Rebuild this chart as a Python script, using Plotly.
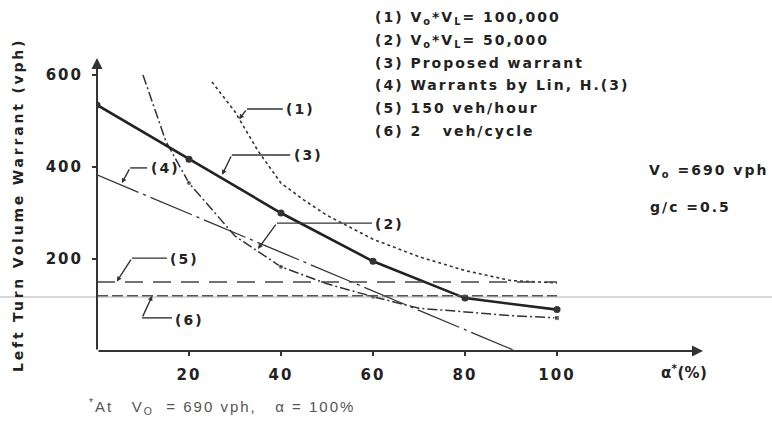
import plotly.graph_objects as go

# ---------------- data ----------------
alpha_1 = [25, 30, 35, 40, 45, 50, 60, 70, 80, 90, 100]
warrant_1 = [585, 520, 435, 365, 328, 295, 243, 205, 175, 153, 148]

alpha_2 = [10, 15, 20, 30, 40, 50, 60, 70, 80, 90, 100]
warrant_2 = [600, 455, 365, 250, 183, 146, 118, 93, 85, 77, 72]
marked_2 = [0, 0, 1, 0, 1, 0, 1, 0, 0, 0, 2]

alpha_3 = [0, 20, 40, 60, 80, 100]
warrant_3 = [535, 417, 300, 195, 115, 90]

alpha_4 = [0, 91]
warrant_4 = [383, 0]

alpha_56 = [0, 100]
warrant_5 = [150, 150]
warrant_6 = [120, 120]

x_ticks = [20, 40, 60, 80, 100]
y_ticks = [200, 400, 600]

legend_lines = [
    "(1) V<sub>o</sub>*V<sub>L</sub>= 100,000",
    "(2) V<sub>o</sub>*V<sub>L</sub>= 50,000",
    "(3) Proposed warrant",
    "(4) Warrants by Lin, H.(3)",
    "(5) 150 veh/hour",
    "(6) 2\u00a0\u00a0 veh/cycle",
]

# ---------------- geometry ----------------
W, H = 772, 422
X0_PX, X1_PX = 97, 703
Y0_PX, Y1_PX = 351, 58
X_MAX = (X1_PX - X0_PX) / 4.6
Y_MAX = (Y0_PX - Y1_PX) / 0.46


def px(xp):
    return (xp - X0_PX) / (X1_PX - X0_PX)


def py(yp):
    return (Y0_PX - yp) / (Y0_PX - Y1_PX)


INK = "#222222"
FONT = "DejaVu Sans"

fig = go.Figure()

# (1)
fig.add_trace(go.Scatter(x=alpha_1, y=warrant_1, mode="lines",
                         line=dict(color="#333333", width=1.6, dash="3px,3px")))
# (2)
fig.add_trace(go.Scatter(
    x=alpha_2, y=warrant_2, mode="lines+markers",
    line=dict(color="#333333", width=1.5, dash="10px,3px,2px,3px"),
    marker=dict(size=[0 if m == 0 else 5 for m in marked_2],
                symbol=["square" if m == 2 else "circle" for m in marked_2],
                color="#333333")))
# (3)
fig.add_trace(go.Scatter(x=alpha_3, y=warrant_3, mode="lines+markers",
                         line=dict(color=INK, width=2.6),
                         marker=dict(size=7, color="#333333")))
# (4)
fig.add_trace(go.Scatter(x=alpha_4, y=warrant_4, mode="lines",
                         line=dict(color="#333333", width=1.3, dash="45px,5px,3px,5px")))
# (5)
fig.add_trace(go.Scatter(x=alpha_56, y=warrant_5, mode="lines",
                         line=dict(color="#444444", width=1.6, dash="18px,10px")))
# (6)
fig.add_trace(go.Scatter(x=alpha_56, y=warrant_6, mode="lines",
                         line=dict(color="#555555", width=1.6, dash="11px,4px")))

shapes = [
    # faint scan line across the page
    dict(type="line", xref="paper", yref="paper", x0=px(0), x1=px(W),
         y0=py(297), y1=py(297), line=dict(color="#d8d8d8", width=2), layer="below"),
]

annotations = []

# axes with arrows
annotations.append(dict(x=X_MAX, y=0, ax=0, ay=0, xref="x", yref="y", axref="x", ayref="y",
                        text="", showarrow=True, arrowhead=2, arrowsize=1.1,
                        arrowwidth=2, arrowcolor="#333333"))
annotations.append(dict(x=0, y=Y_MAX, ax=0, ay=0, xref="x", yref="y", axref="x", ayref="y",
                        text="", showarrow=True, arrowhead=2, arrowsize=1.1,
                        arrowwidth=2, arrowcolor="#333333"))

# leaders: (label, point, elbow, end, label y)
leaders = [
    ("(1)", (30.9, 504), (32.6, 526), (40.4, 526), 526),
    ("(3)", (27.2, 383), (29.3, 426), (42.0, 426), 426),
    ("(4)", (5.4, 365), (7.2, 398), (10.9, 398), 398),
    ("(5)", (4.3, 151), (7.6, 202), (15.2, 202), 200),
    ("(6)", (12.0, 120), (9.8, 72), (16.3, 72), 67),
    ("(2)", (35.0, 222), (39.1, 278), (59.8, 278), 276),
]
for lab, pt, elb, end, ly in leaders:
    annotations.append(dict(x=pt[0], y=pt[1], ax=elb[0], ay=elb[1], xref="x", yref="y",
                            axref="x", ayref="y", text="", showarrow=True, arrowhead=2,
                            arrowsize=0.7, arrowwidth=1.4, arrowcolor="#333333"))
    shapes.append(dict(type="line", xref="x", yref="y", x0=elb[0], y0=elb[1],
                       x1=end[0], y1=end[1], line=dict(color="#333333", width=1.4)))
    annotations.append(dict(x=end[0] + 0.3, y=ly, xref="x", yref="y", text="<b>" + lab + "</b>",
                            showarrow=False, xanchor="left", yanchor="middle", align="left",
                            font=dict(family=FONT, size=14, color=INK)))

# top legend text block
for i, t in enumerate(legend_lines):
    annotations.append(dict(x=px(373), y=py(18 + 22.5 * i), xref="paper", yref="paper",
                            text="<b>" + t + "</b>", showarrow=False, xanchor="left",
                            yanchor="middle", align="left",
                            font=dict(family=FONT, size=14, color=INK)))

# right side notes
annotations.append(dict(x=px(647), y=py(171), xref="paper", yref="paper",
                        text="<b>V<sub>o</sub> =690 vph</b>", showarrow=False,
                        xanchor="left", yanchor="middle", align="left",
                        font=dict(family=FONT, size=14, color=INK)))
annotations.append(dict(x=px(648), y=py(207), xref="paper", yref="paper",
                        text="<b>g/c =0.5</b>", showarrow=False,
                        xanchor="left", yanchor="middle", align="left",
                        font=dict(family=FONT, size=14, color=INK)))

# x label
annotations.append(dict(x=px(659), y=py(372), xref="paper", yref="paper",
                        text="<b>α<sup>*</sup>(%)</b>", showarrow=False,
                        xanchor="left", yanchor="middle", align="left",
                        font=dict(family=FONT, size=15, color=INK)))

# y title
annotations.append(dict(x=px(18), y=py(205), xref="paper", yref="paper",
                        text="<b>Left Turn Volume Warrant (vph)</b>", showarrow=False,
                        textangle=-90, xanchor="center", yanchor="middle",
                        font=dict(family=FONT, size=14, color=INK)))

# footnote
annotations.append(dict(x=px(87), y=py(406), xref="paper", yref="paper",
                        text="<sup>*</sup>At\u00a0\u00a0 V<sub>O</sub>\u00a0 = 690 vph,\u00a0\u00a0 α = 100%",
                        showarrow=False, xanchor="left", yanchor="middle", align="left",
                        font=dict(family="Liberation Sans", size=15, color="#555555")))

fig.update_layout(
    width=W, height=H,
    margin=dict(l=X0_PX, r=W - X1_PX, t=Y1_PX, b=H - Y0_PX, pad=0),
    paper_bgcolor="white", plot_bgcolor="white",
    showlegend=False,
    shapes=shapes, annotations=annotations,
    xaxis=dict(range=[0, X_MAX], showgrid=False, zeroline=False, showline=False,
               tickvals=x_ticks, ticks="outside", ticklen=4, tickwidth=2,
               tickcolor="#333333", ticklabelstandoff=6,
               tickfont=dict(family=FONT, size=15, color=INK, weight="bold")),
    yaxis=dict(range=[0, Y_MAX], showgrid=False, zeroline=False, showline=False,
               tickvals=y_ticks, ticks="outside", ticklen=4, tickwidth=2,
               tickcolor="#333333", ticklabelstandoff=6,
               tickfont=dict(family=FONT, size=15, color=INK, weight="bold")),
)

post = """
var gd = document.getElementById('{plot_id}');
gd.querySelectorAll('text').forEach(function(t){
  var s = t.textContent || '';
  if (s.indexOf('Left Turn') >= 0) { t.style.letterSpacing = '2.8px'; }
  else if (s.indexOf('At') >= 0 && s.indexOf('100%') >= 0) { t.style.letterSpacing = '2px'; }
  else if (s.indexOf('(%)') >= 0) { t.style.letterSpacing = '0.3px'; }
  else { t.style.letterSpacing = '2px'; }
});
"""

fig.write_html("out.html", post_script=post)
